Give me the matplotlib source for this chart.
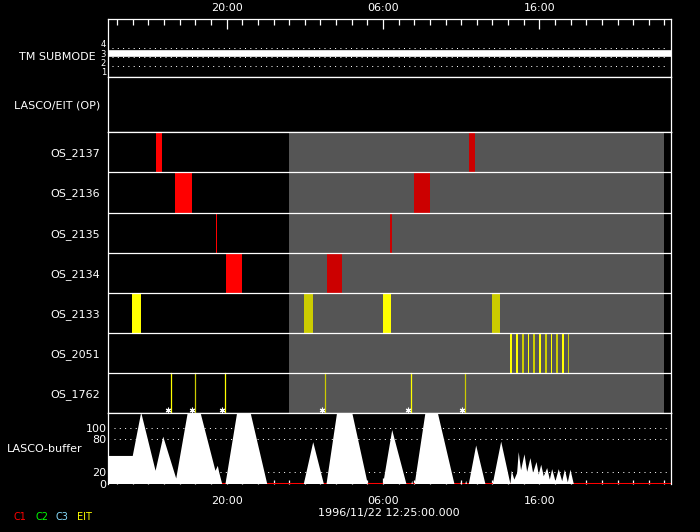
import matplotlib
matplotlib.use("Agg")
import matplotlib.pyplot as plt

# ── Data (time = hours after 1996/11/22 12:25) ────────────────────────────────
t_span = (0.0, 36.0)
hour_ticks = [0.583 + i for i in range(36)]
major_ticks = [7.583, 17.583, 27.583]
major_labels = ["20:00", "06:00", "16:00"]
start_label = "1996/11/22 12:25:00.000"

submode_t = [0.0, 36.0]
submode_v = [3, 3]
submode_ticks = [1, 2, 3, 4]
submode_grid = [1.6, 2.55, 3.6]

os_names = ["OS_2137", "OS_2136", "OS_2135", "OS_2134", "OS_2133", "OS_2051", "OS_1762"]
planned_span = (11.57, 35.55)

os_2137 = [(3.07, 3.45), (23.08, 23.47)]
os_2137_kind = ["C1", "C1p"]
os_2136 = [(4.28, 5.37), (19.57, 20.59)]
os_2136_kind = ["C1", "C1p"]
os_2135 = [(6.90, 6.97), (18.03, 18.16)]
os_2135_kind = ["C1", "C1p"]
os_2134 = [(7.54, 8.57), (14.00, 14.96)]
os_2134_kind = ["C1", "C1p"]
os_2133 = [(1.53, 2.11), (12.53, 13.11), (17.58, 18.09), (24.55, 25.06)]
os_2133_kind = ["EIT", "EITp", "EIT", "EITp"]
os_2051 = [(25.70, 25.83), (26.09, 26.21), (26.47, 26.60), (26.85, 26.92),
           (27.17, 27.30), (27.56, 27.69), (27.94, 28.07), (28.32, 28.39),
           (28.64, 28.77), (29.03, 29.16), (29.41, 29.48)]
os_2051_kind = ["EIT", "EIT", "EITp", "EIT", "EITp", "EIT", "EITp", "EIT",
                "EITp", "EIT", "EITp"]
os_1762_t = [4.03, 5.56, 7.48, 13.87, 19.37, 22.83]
os_1762_kind = ["EIT", "EITp", "EIT", "EITp", "EIT", "EITp"]

buf_ticks = [0, 20, 80, 100]
buf_grid = [20, 80, 100]
buf_t = [0.00, 1.55, 2.09, 3.01, 3.50, 4.33, 5.07, 5.88, 6.84, 6.99, 7.07, 7.27,
         7.48, 8.23, 9.08, 10.15, 12.49, 13.09, 13.77, 13.94, 14.62, 15.58, 16.58,
         17.56, 18.14, 19.05, 19.37, 19.42, 19.46, 19.58, 20.27, 21.05, 22.12,
         22.50, 22.57, 22.62, 22.82, 22.87, 22.92, 23.04, 23.51, 24.10, 24.57,
         25.11, 25.70, 25.78, 25.95, 26.13, 26.23, 26.38, 26.60, 26.77, 26.98,
         27.15, 27.37, 27.51, 27.67, 27.83, 28.05, 28.22, 28.37, 28.58, 28.79,
         29.01, 29.18, 29.37, 29.54, 29.75, 36.0]
buf_v = [51, 51, 130, 24, 86, 10, 130, 130, 24, 33, 22, 0,
         0, 130, 130, 0, 0, 76, 0, 0, 130, 130, 0,
         0, 98, 0, 0, 6, 0, 0, 130, 130, 0,
         0, 6, 0, 0, 6, 0, 0, 70, 0, 0,
         77, 0, 24, 8, 20, 58, 25, 54, 22, 47,
         20, 40, 17, 35, 14, 29, 8, 27, 5, 27,
         5, 26, 3, 26, 0, 0]

legend_names = ["C1", "C2", "C3", "EIT"]

# ── Styles ────────────────────────────────────────────────────────────────────
W, H = 700, 532
FG = "white"
GRAY = "#555555"
KIND_COL = {"C1": "#ff0000", "C1p": "#cc0000", "EIT": "#ffff00", "EITp": "#cccc00"}
LEGEND_COL = ["#ff0000", "#00ff00", "#88ddff", "#ffff00"]
LEGEND_X = [14, 35, 56, 77]
X0, X1 = 108, 671
FS = 8
DOT = (0, (1, 4.3))

plt.rcParams["font.family"] = "DejaVu Sans"
fig = plt.figure(figsize=(W / 100, H / 100), dpi=100)
fig.patch.set_facecolor("black")


def add_ax(top, bottom):
    ax = fig.add_axes([X0 / W, 1 - bottom / H, (X1 - X0) / W, (bottom - top) / H])
    ax.set_facecolor("black")
    ax.set_xlim(*t_span)
    for s in ax.spines.values():
        s.set_color(FG)
        s.set_linewidth(0.9)
    ax.tick_params(colors=FG, labelsize=FS, length=0)
    ax.set_xticks([])
    return ax


# ── TM submode ────────────────────────────────────────────────────────────────
tm = add_ax(19, 76.5)
tm.set_ylim(0.45, 6.7)
for g in submode_grid:
    tm.axhline(g, color=FG, lw=0.72, ls=DOT, xmin=0.007, xmax=0.995)
tm.plot(submode_t, submode_v, color=FG, lw=4.8, solid_capstyle="butt")
tm.set_yticks(submode_ticks, [str(v) for v in submode_ticks])
tm.tick_params(axis="y", labelsize=6, pad=1.5)
tm.xaxis.set_ticks_position("top")
tm.set_xticks(major_ticks, major_labels)
tm.set_xticks(hour_ticks, minor=True)
tm.tick_params(axis="x", which="both", direction="in", colors=FG, labelsize=FS, pad=4)
tm.tick_params(axis="x", which="major", length=7.2, width=0.9)
tm.tick_params(axis="x", which="minor", length=4.3, width=0.9)
fig.text(95.5 / W, 1 - 57 / H, "TM SUBMODE", color=FG, fontsize=FS,
         ha="right", va="center")

# ── LASCO/EIT (OP) ────────────────────────────────────────────────────────────
op = add_ax(76.5, 132.3)
op.set_ylim(0, 1)
op.set_yticks([0.5], ["LASCO/EIT (OP)"])
op.tick_params(axis="y", pad=5.8)

# ── OS rows ───────────────────────────────────────────────────────────────────
osx = add_ax(132.3, 413.3)
osx.set_ylim(7, 0)
osx.axvspan(*planned_span, color=GRAY, lw=0, zorder=1)
bar_rows = [(os_2137, os_2137_kind), (os_2136, os_2136_kind), (os_2135, os_2135_kind),
            (os_2134, os_2134_kind), (os_2133, os_2133_kind), (os_2051, os_2051_kind)]
for i, (spans, kinds) in enumerate(bar_rows):
    osx.broken_barh([(a, b - a) for a, b in spans], (i, 1),
                    facecolors=[KIND_COL[k] for k in kinds], lw=0, zorder=2)
r = len(bar_rows)
for t, k in zip(os_1762_t, os_1762_kind):
    osx.plot([t, t], [r, r + 1], color=KIND_COL[k], lw=0.9, zorder=2)
    osx.plot(t - 0.2, r + 0.92, marker=(6, 2, 0), ms=4, mew=0.8,
             color=FG, zorder=3)
for y in range(1, len(os_names)):
    osx.axhline(y, color=FG, lw=0.9, zorder=4)
osx.set_yticks([i + 0.5 for i in range(len(os_names))], os_names)
osx.tick_params(axis="y", pad=5.8)

# ── LASCO buffer ──────────────────────────────────────────────────────────────
buf = add_ax(413.3, 483.5)
buf.set_ylim(0, 127.6)
for g in buf_grid:
    buf.axhline(g, color=FG, lw=0.72, ls=DOT, xmin=0.01, xmax=0.995, zorder=1)
buf.axhline(0, color="#ff0000", lw=2.2, zorder=2)
buf.fill_between(buf_t, buf_v, 0, color=FG, lw=0, zorder=3)
buf.spines["bottom"].set_visible(False)
buf.set_yticks(buf_ticks, [str(v) for v in buf_ticks])
buf.tick_params(axis="y", pad=1)
buf.set_xticks(major_ticks, major_labels)
buf.set_xticks(hour_ticks, minor=True)
buf.tick_params(axis="x", which="both", direction="in", colors=FG, labelsize=FS, pad=9)
buf.tick_params(axis="x", which="major", length=4, width=0.9)
buf.tick_params(axis="x", which="minor", length=3, width=0.9)
fig.text(7 / W, 1 - 449 / H, "LASCO-buffer", color=FG, fontsize=FS,
         ha="left", va="center")

# ── Footer ────────────────────────────────────────────────────────────────────
fig.text(389 / W, 1 - 513 / H, start_label, color=FG, fontsize=FS,
         ha="center", va="center")
for name, col, x in zip(legend_names, LEGEND_COL, LEGEND_X):
    fig.text(x / W, 1 - 517 / H, name, color=col, fontsize=7,
             ha="left", va="center")

fig.savefig("out.png", dpi=100, facecolor="black")
